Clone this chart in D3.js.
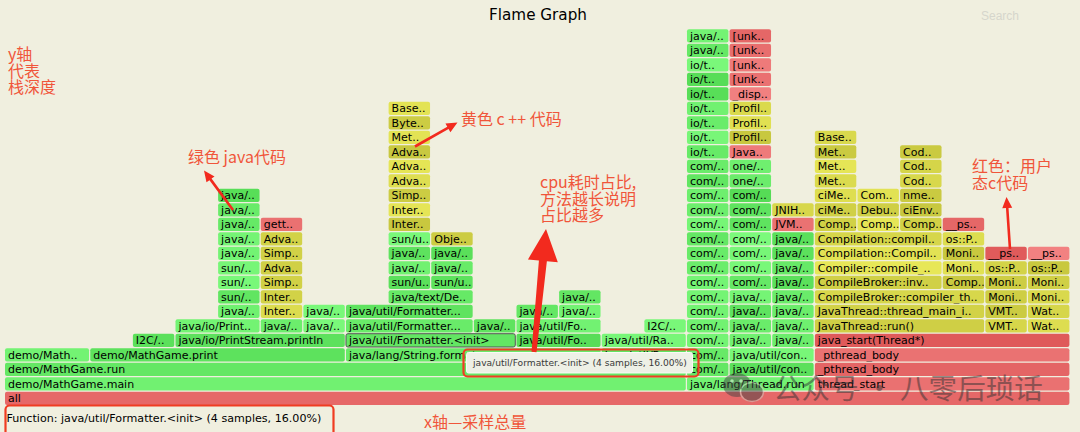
<!DOCTYPE html>
<html><head><meta charset="utf-8">
<script src="https://cdn.jsdelivr.net/npm/d3@7"></script>
<style>html,body{margin:0;padding:0;background:#f0efdf;} svg{display:block}</style>
</head><body>
<svg id="c" width="1080" height="432"></svg>
<script>
// ---------- data ----------
const chartTitle = "Flame Graph";
const searchLabel = "Search";
const totalSamples = 25;
const hoverFrame = "java/util/Formatter.<init>";

const MG = "all;demo/MathGame.main;demo/MathGame.run";
const PR = MG + ";demo/MathGame.print;java/io/PrintStream.println";
const FM = MG + ";java/lang/String.format";
const FI = FM + ";java/util/Formatter.<init>;java/util/Formatter...;java/util/Formatter...";
const DE = FI + ";java/text/De..";
const TR = "all;java/lang/Thread.run";
const TC = TR + ";java/util/con..;java/util/con..";
const JS = "all;thread_start;_pthread_body;_pthread_body;java_start(Thread*)";
const CB = JS + ";JavaThread::run();JavaThread::thread_main_i..;CompileBroker::compiler_th..";
const CC = CB + ";CompileBroker::inv..;Compiler::compile_..;Compilation::Compil..;Compilation::compil..";
const rep = (n, k) => Array(k).fill(n).join(";");

// collapsed stacks (left to right), "^" = new frame even if same label as neighbour
const stacks = [
  [MG + ";demo/Math..", 2],
  [MG + ";demo/MathGame.print", 1],
  [MG + ";demo/MathGame.print;I2C/..", 1],
  [PR + ";java/io/Print..", 1],
  [PR + ";java/io/Print..;java/..;sun/..;sun/..;sun/..;java/..;java/..;java/..;java/..;java/..", 1],
  [PR + ";java/..;Inter..;Inter..;Simp..;Adva..;Simp..;Adva..;gett..", 1],
  [PR + ";^java/..;java/..", 1],
  [FI, 1],
  [DE + ";sun/u..;java/..;java/..;sun/u..;Inter..;Inter..;Simp..;Adva..;Adva..;Adva..;Met..;Byte..;Base..", 1],
  [DE + ";^sun/u..;java/..;java/..;Obje..", 1],
  [FM + ";java/util/Formatter.<init>;java/..", 1],
  [FM + ";java/util/Fo..;java/util/Fo..;java/..", 1],
  [FM + ";java/util/Fo..;java/util/Fo..;^java/..;java/..", 1],
  [MG + ";java/util/Ra..;java/util/Ra..", 1],
  [MG + ";java/util/Ra..;java/util/Ra..;I2C/..", 1],
  [TR + ";" + rep("com/..", 15) + ";" + rep("io/t..", 7) + ";java/..;java/..", 1],
  [TC + ";" + rep("java/..", 4) + ";" + rep("com/..", 7) + ";one/..;one/..;Java..;Profil..;Profil..;Profil..;_disp..;[unk..;[unk..;[unk..;[unk..", 1],
  [TC + ";^java/..;" + rep("java/..", 7) + ";JVM..;JNIH..", 1],
  [CC + ";Comp..;ciMe..;ciMe..;Met..;Met..;Met..;Base..", 1],
  [CC + ";^Comp..;Debu..;Com..", 1],
  [CC + ";^Comp..;ciEnv..;nme..;Cod..;Cod..;Cod..", 1],
  [CB + ";Comp..;Moni..;Moni..;os::P..;__ps..", 1],
  [JS + ";VMT..;VMT..;Moni..;Moni..;os::P..;__ps..", 1],
  [JS + ";Wat..;Wat..;Moni..;Moni..;os::P..;__ps..", 1]
];

const nativeFrames = ["all", "thread_start", "_pthread_body", "java_start(Thread*)", "gett..", "JVM..", "Java..", "_disp..", "[unk..", "__ps.."];
const cppFrames = ["Inter..", "Simp..", "Adva..", "Obje..", "Met..", "Byte..", "Base..", "Profil..", "JNIH..",
  "JavaThread::run()", "JavaThread::thread_main_i..", "CompileBroker::compiler_th..", "CompileBroker::inv..",
  "Compiler::compile_..", "Compilation::Compil..", "Compilation::compil..", "Comp..", "ciMe..", "Debu..", "Com..",
  "ciEnv..", "nme..", "Cod..", "Moni..", "os::P..", "VMT..", "Wat.."];

const annotations = [
  {lines: ["y轴", "代表", "栈深度"], x: 8, y: 60},
  {lines: ["绿色 java代码"], x: 188, y: 163},
  {lines: ["黄色 c ++ 代码"], x: 461, y: 125},
  {lines: ["cpu耗时占比,", "方法越长说明", "占比越多"], x: 540, y: 188},
  {lines: ["红色：用户", "态c代码"], x: 972, y: 172},
  {lines: ["x轴—采样总量"], x: 424, y: 428}
];
const watermark = "公众号 · 八零后琐话";

// ---------- layout ----------
const frames = [];
let open = [], cursor = 0;
stacks.forEach(([s, n]) => {
  const names = s.split(";");
  let diverged = false;
  names.forEach((raw, d) => {
    const split = raw.startsWith("^");
    const name = split ? raw.slice(1) : raw;
    const o = open[d];
    if (!diverged && !split && o && o.name === name && o.end === cursor) {
      o.end += n;
    } else {
      diverged = true;
      const f = {name, depth: d, start: cursor, end: cursor + n};
      frames.push(f); open[d] = f;
    }
  });
  open.length = names.length;
  cursor += n;
});
const maxDepth = d3.max(frames, f => f.depth);

const svg = d3.select("#c");
svg.append("rect").attr("width", 1080).attr("height", 432).attr("fill", "#f0efdf");

const x = d3.scaleLinear().domain([0, totalSamples]).range([5, 1070.6]);
const y = d3.scaleLinear().domain([0, maxDepth]).range([391.7, 29.3]);
const rowH = (y(0) - y(1)) - 1.2;

function hash(str) {
  let h = 2166136261;
  for (const c of str) { h ^= c.charCodeAt(0); h = Math.imul(h, 16777619); }
  return ((h >>> 0) % 1000) / 1000;
}
function color(f) {
  const v = hash(f.name + "|" + f.depth + "|" + f.start);
  if (nativeFrames.includes(f.name)) {
    const g = Math.round(88 + 42 * v);
    return `rgb(${Math.round(222 + 20 * v)},${g},${g})`;
  }
  if (cppFrames.includes(f.name)) {
    const r = Math.round(198 + 34 * v);
    return `rgb(${r},${r},${Math.round(62 + 26 * v)})`;
  }
  const r = Math.round(86 + 38 * v);
  return `rgb(${r},${Math.round(220 + 30 * v)},${r})`;
}

const g = svg.append("g");
const fg = g.selectAll("g.f").data(frames).join("g").attr("class", "f");
fg.append("rect")
  .attr("x", f => x(f.start))
  .attr("y", f => y(f.depth))
  .attr("width", f => x(f.end) - x(f.start) - 1.2)
  .attr("height", rowH)
  .attr("rx", 2)
  .attr("fill", color)
  .attr("stroke", f => (f.name === hoverFrame && f.depth === 4) ? "#555" : "none")
  .attr("stroke-width", 1);
fg.append("clipPath").attr("id", (f, i) => "cl" + i)
  .append("rect")
  .attr("x", f => x(f.start))
  .attr("y", f => y(f.depth))
  .attr("width", f => x(f.end) - x(f.start) - 1.5)
  .attr("height", rowH);
fg.append("text")
  .attr("clip-path", (f, i) => `url(#cl${i})`)
  .attr("x", f => x(f.start) + 3)
  .attr("y", f => y(f.depth) + 10.4)
  .attr("font-family", "DejaVu Sans")
  .attr("font-size", 11)
  .attr("fill", "#000")
  .text(f => f.name);

function fit(sel, w) {
  const cur = sel.node().getComputedTextLength();
  const fs = parseFloat(sel.attr("font-size"));
  sel.attr("font-size", fs * w / cur);
  return sel;
}

// title & search
fit(svg.append("text").attr("x", 538).attr("y", 20).attr("text-anchor", "middle")
  .attr("font-family", "DejaVu Sans").attr("font-size", 16).attr("fill", "#000").text(chartTitle), 98);
svg.append("text").attr("x", 981).attr("y", 20).attr("font-family", "Liberation Sans")
  .attr("font-size", 12).attr("fill", "#d6d6cc").text(searchLabel);

// hovered frame info
const hf = frames.find(f => f.name === hoverFrame);
const hn = hf.end - hf.start;
const info = `${hoverFrame} (${hn} samples, ${(100 * hn / totalSamples).toFixed(2)}%)`;

// tooltip
svg.append("rect").attr("x", 466.5).attr("y", 352.5).attr("width", 226).attr("height", 20.5)
  .attr("rx", 2).attr("fill", "#eef0e6").attr("stroke", "#fafaf4").attr("stroke-width", 1);
fit(svg.append("text").attr("x", 473).attr("y", 366).attr("font-family", "DejaVu Sans")
  .attr("font-size", 10).attr("fill", "#3a3a3a").text(info), 214);

// function bar
fit(svg.append("text").attr("x", 6.5).attr("y", 422).attr("font-family", "DejaVu Sans")
  .attr("font-size", 11).attr("fill", "#000").text("Function: " + info), 315);

// ---------- annotations ----------
const red = "#f03c22";
svg.append("rect").attr("x", 463.5).attr("y", 349.5).attr("width", 235).attr("height", 27)
  .attr("rx", 4).attr("fill", "none").attr("stroke", red).attr("stroke-width", 2.2);
svg.append("rect").attr("x", 5.5).attr("y", 405.5).attr("width", 328).attr("height", 40)
  .attr("rx", 4).attr("fill", "none").attr("stroke", red).attr("stroke-width", 2.2);

annotations.forEach(a => {
  const t = svg.append("text").attr("font-family", "Noto Sans CJK SC").attr("font-size", 16)
    .attr("fill", "#f0553a");
  a.lines.forEach((l, i) => t.append("tspan").attr("x", a.x).attr("y", a.y + i * 16.5).text(l));
});

function arrow(x1, y1, x2, y2, w1, w2, hl, hw) {
  const dx = x2 - x1, dy = y2 - y1, L = Math.hypot(dx, dy);
  const ux = dx / L, uy = dy / L, nx = -uy, ny = ux;
  const bx = x2 - ux * hl, by = y2 - uy * hl;
  const pts = [
    [x1 + nx * w1 / 2, y1 + ny * w1 / 2],
    [bx + nx * w2 / 2, by + ny * w2 / 2],
    [bx + nx * hw / 2, by + ny * hw / 2],
    [x2, y2],
    [bx - nx * hw / 2, by - ny * hw / 2],
    [bx - nx * w2 / 2, by - ny * w2 / 2],
    [x1 - nx * w1 / 2, y1 - ny * w1 / 2]
  ];
  svg.append("polygon").attr("points", pts.map(p => p.join(",")).join(" ")).attr("fill", "#f22a1e");
}
arrow(233, 210, 204, 170.5, 2.6, 2.6, 11, 10);
arrow(415, 146.5, 457.5, 122.5, 2.6, 2.6, 11, 10);
arrow(1010, 249, 1006.5, 197, 2.6, 2.6, 11, 10);
arrow(534, 352, 546, 229, 5, 8, 32, 30);

// watermark
const wm = svg.append("g").attr("opacity", 0.5);
wm.append("ellipse").attr("cx", 737).attr("cy", 385).attr("rx", 14).attr("ry", 12).attr("fill", "#444");
wm.append("ellipse").attr("cx", 752).attr("cy", 392).attr("rx", 11.5).attr("ry", 9.5)
  .attr("fill", "#444").attr("stroke", "#cfcfc4").attr("stroke-width", 1.5);
wm.append("circle").attr("cx", 732).attr("cy", 381).attr("r", 1.8).attr("fill", "#ddd");
wm.append("circle").attr("cx", 741).attr("cy", 381).attr("r", 1.8).attr("fill", "#ddd");
fit(wm.append("text").attr("x", 773).attr("y", 399).attr("font-family", "Noto Sans CJK SC")
  .attr("font-size", 27).attr("fill", "#333").text(watermark), 270);
</script>
</body></html>
